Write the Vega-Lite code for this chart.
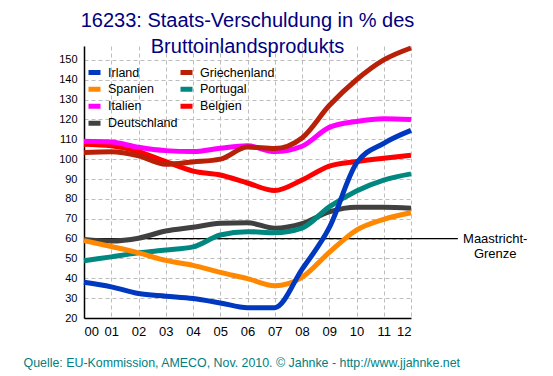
{
  "$schema": "https://vega.github.io/schema/vega-lite/v6.json",
  "width": 327,
  "height": 272,
  "autosize": {"type": "none"},
  "padding": {"left": 84, "top": 46, "right": 142, "bottom": 58},
  "background": "white",
  "config": {"view": {"stroke": null}, "font": "Liberation Sans"},
  "title": {
    "text": ["16233: Staats-Verschuldung in % des", "Bruttoinlandsprodukts"],
    "font": "Liberation Sans",
    "fontSize": 20,
    "fontWeight": "normal",
    "color": "#000080",
    "anchor": "middle",
    "frame": "group",
    "lineHeight": 26.5,
    "offset": 0,
    "dy": 19.5
  },
  "datasets": {
    "limit": [{"year": 0, "year2": 13.72, "value": 60}],
    "limitText": [{"year": 15.09, "value": 60, "label": "Maastricht-\nGrenze"}],
    "debt": [
      {"country": "Deutschland", "year": 0, "value": 59.6},
      {"country": "Deutschland", "year": 1, "value": 58.8},
      {"country": "Deutschland", "year": 2, "value": 60.2},
      {"country": "Deutschland", "year": 3, "value": 63.8},
      {"country": "Deutschland", "year": 4, "value": 65.7},
      {"country": "Deutschland", "year": 5, "value": 67.7},
      {"country": "Deutschland", "year": 6, "value": 68},
      {"country": "Deutschland", "year": 7, "value": 65.2},
      {"country": "Deutschland", "year": 8, "value": 67.5},
      {"country": "Deutschland", "year": 9, "value": 73.5},
      {"country": "Deutschland", "year": 10, "value": 75.8},
      {"country": "Deutschland", "year": 11, "value": 75.8},
      {"country": "Deutschland", "year": 12, "value": 75.3},
      {"country": "Belgien", "year": 0, "value": 107.5},
      {"country": "Belgien", "year": 1, "value": 106.7},
      {"country": "Belgien", "year": 2, "value": 103.8},
      {"country": "Belgien", "year": 3, "value": 98.8},
      {"country": "Belgien", "year": 4, "value": 94},
      {"country": "Belgien", "year": 5, "value": 92},
      {"country": "Belgien", "year": 6, "value": 88},
      {"country": "Belgien", "year": 7, "value": 84.2},
      {"country": "Belgien", "year": 8, "value": 89.5},
      {"country": "Belgien", "year": 9, "value": 96.5},
      {"country": "Belgien", "year": 10, "value": 98.8},
      {"country": "Belgien", "year": 11, "value": 100.5},
      {"country": "Belgien", "year": 12, "value": 102},
      {"country": "Italien", "year": 0, "value": 109},
      {"country": "Italien", "year": 1, "value": 108.6},
      {"country": "Italien", "year": 2, "value": 106},
      {"country": "Italien", "year": 3, "value": 104.3},
      {"country": "Italien", "year": 4, "value": 103.8},
      {"country": "Italien", "year": 5, "value": 105.5},
      {"country": "Italien", "year": 6, "value": 106.7},
      {"country": "Italien", "year": 7, "value": 103.8},
      {"country": "Italien", "year": 8, "value": 106.5},
      {"country": "Italien", "year": 9, "value": 116},
      {"country": "Italien", "year": 10, "value": 119},
      {"country": "Italien", "year": 11, "value": 120.4},
      {"country": "Italien", "year": 12, "value": 120},
      {"country": "Portugal", "year": 0, "value": 48.8},
      {"country": "Portugal", "year": 1, "value": 50.8},
      {"country": "Portugal", "year": 2, "value": 52.8},
      {"country": "Portugal", "year": 3, "value": 54.2},
      {"country": "Portugal", "year": 4, "value": 55.8},
      {"country": "Portugal", "year": 5, "value": 61.8},
      {"country": "Portugal", "year": 6, "value": 63.5},
      {"country": "Portugal", "year": 7, "value": 63},
      {"country": "Portugal", "year": 8, "value": 65.3},
      {"country": "Portugal", "year": 9, "value": 76},
      {"country": "Portugal", "year": 10, "value": 84},
      {"country": "Portugal", "year": 11, "value": 89.5},
      {"country": "Portugal", "year": 12, "value": 92.6},
      {"country": "Spanien", "year": 0, "value": 59},
      {"country": "Spanien", "year": 1, "value": 56},
      {"country": "Spanien", "year": 2, "value": 52.8},
      {"country": "Spanien", "year": 3, "value": 49},
      {"country": "Spanien", "year": 4, "value": 46.5},
      {"country": "Spanien", "year": 5, "value": 43},
      {"country": "Spanien", "year": 6, "value": 39.8},
      {"country": "Spanien", "year": 7, "value": 36.3},
      {"country": "Spanien", "year": 8, "value": 40.5},
      {"country": "Spanien", "year": 9, "value": 53},
      {"country": "Spanien", "year": 10, "value": 64.3},
      {"country": "Spanien", "year": 11, "value": 69.7},
      {"country": "Spanien", "year": 12, "value": 73},
      {"country": "Griechenland", "year": 0, "value": 103.4},
      {"country": "Griechenland", "year": 1, "value": 103.7},
      {"country": "Griechenland", "year": 2, "value": 101.7},
      {"country": "Griechenland", "year": 3, "value": 97.4},
      {"country": "Griechenland", "year": 4, "value": 98.6},
      {"country": "Griechenland", "year": 5, "value": 100},
      {"country": "Griechenland", "year": 6, "value": 106.1},
      {"country": "Griechenland", "year": 7, "value": 105.4},
      {"country": "Griechenland", "year": 8, "value": 110.7},
      {"country": "Griechenland", "year": 9, "value": 127},
      {"country": "Griechenland", "year": 10, "value": 140},
      {"country": "Griechenland", "year": 11, "value": 150},
      {"country": "Griechenland", "year": 12, "value": 156},
      {"country": "Irland", "year": 0, "value": 38},
      {"country": "Irland", "year": 1, "value": 35.7},
      {"country": "Irland", "year": 2, "value": 32.3},
      {"country": "Irland", "year": 3, "value": 31},
      {"country": "Irland", "year": 4, "value": 29.8},
      {"country": "Irland", "year": 5, "value": 27.6},
      {"country": "Irland", "year": 6, "value": 25.2},
      {"country": "Irland", "year": 7, "value": 25.2},
      {"country": "Irland", "year": 8, "value": 44.5},
      {"country": "Irland", "year": 9, "value": 65.5},
      {"country": "Irland", "year": 10, "value": 98},
      {"country": "Irland", "year": 11, "value": 108},
      {"country": "Irland", "year": 12, "value": 114.5}
    ]
  },
  "encoding": {
    "x": {
      "field": "year",
      "type": "quantitative",
      "scale": {"domain": [0, 12], "nice": false, "zero": false},
      "axis": {
        "values": [0, 1, 2, 3, 4, 5, 6, 7, 8, 9, 10, 11, 12],
        "labelExpr": "datum.value < 10 ? '0' + datum.value : '' + datum.value",
        "labelOverlap": false,
        "labelFontSize": 13,
        "labelColor": "black",
        "labelFont": "Liberation Sans",
        "labelPadding": 7,
        "ticks": false,
        "domainColor": "black",
        "domainWidth": 1.5,
        "grid": true,
        "gridColor": "#bdbdbd",
        "gridDash": [4, 3],
        "gridWidth": 1,
        "title": "Quelle: EU-Kommission, AMECO, Nov. 2010. © Jahnke - http://www.jjahnke.net",
        "titleFont": "Liberation Sans",
        "titleFontSize": 12.4,
        "titleFontWeight": "normal",
        "titleColor": "#008080",
        "titleAnchor": "start",
        "titleAlign": "left",
        "titleBaseline": "alphabetic",
        "titleX": -61,
        "titleY": 48
      }
    },
    "y": {
      "field": "value",
      "type": "quantitative",
      "scale": {"domain": [20, 157], "nice": false, "zero": false},
      "axis": {
        "values": [20, 30, 40, 50, 60, 70, 80, 90, 100, 110, 120, 130, 140, 150],
        "labelOverlap": false,
        "labelFontSize": 11,
        "labelColor": "black",
        "labelFont": "Liberation Sans",
        "labelPadding": 7,
        "ticks": false,
        "domainColor": "black",
        "domainWidth": 1.5,
        "grid": true,
        "gridColor": "#bdbdbd",
        "gridDash": [4, 3],
        "gridWidth": 1,
        "title": null
      }
    }
  },
  "layer": [
    {
      "data": {"name": "limit"},
      "mark": {"type": "rule", "color": "black", "strokeWidth": 1.3},
      "encoding": {
        "x2": {"field": "year2"}
      }
    },
    {
      "data": {"name": "debt"},
      "mark": {"type": "line", "interpolate": "monotone"},
      "encoding": {
        "color": {
          "field": "country",
          "type": "nominal",
          "scale": {
            "domain": ["Irland", "Spanien", "Italien", "Deutschland", "Griechenland", "Portugal", "Belgien"],
            "range": ["#0038c0", "#ff8800", "#ff00ff", "#404040", "#b82008", "#008880", "#ff0000"]
          },
          "legend": {
            "title": null,
            "orient": "none",
            "legendX": 2,
            "legendY": 18,
            "columns": 2,
            "gridAlign": "each",
            "symbolType": "stroke",
            "symbolSize": 144,
            "symbolStrokeWidth": 4,
            "labelFont": "Liberation Sans",
            "labelFontSize": 12.5,
            "labelColor": "black",
            "labelOffset": 5,
            "clipHeight": 16.4,
            "rowPadding": 0,
            "columnPadding": -21
          }
        },
        "strokeWidth": {
          "field": "country",
          "type": "nominal",
          "scale": {
            "domain": ["Irland", "Spanien", "Italien", "Deutschland", "Griechenland", "Portugal", "Belgien"],
            "range": [5, 5, 5, 3, 5, 5, 5]
          },
          "legend": null
        }
      }
    },
    {
      "data": {"name": "limitText"},
      "mark": {"type": "text", "align": "center", "baseline": "middle", "fontSize": 13, "lineHeight": 15, "lineBreak": "\n", "font": "Liberation Sans", "color": "black"},
      "encoding": {
        "text": {"field": "label"}
      }
    }
  ]
}
